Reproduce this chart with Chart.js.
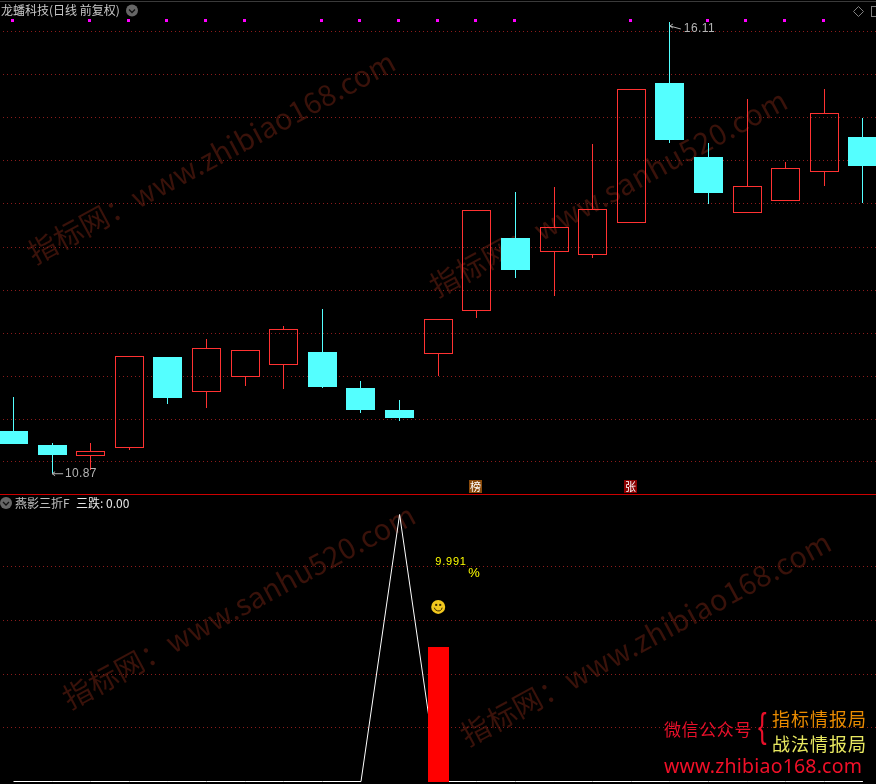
<!DOCTYPE html>
<html>
<head>
<meta charset="utf-8">
<title>龙蟠科技</title>
<script src="https://cdn.jsdelivr.net/npm/chart.js@4"></script>
<style>
    html, body { margin: 0; padding: 0; background: #000; overflow: hidden; }
    canvas { display: block; }
</style>
</head>
<body>
<canvas id="klineChart" width="876" height="784"></canvas>
<script>
// Daily candles
var opens  = [11.37, 11.20, 11.08, 11.17, 12.22, 11.82, 11.99, 12.13, 12.28, 11.86, 11.61, 12.26, 12.76, 13.60, 13.44, 13.41, 13.78, 15.40, 14.54, 13.89, 14.03, 14.37, 14.78];
var closes = [11.21, 11.09, 11.13, 12.24, 11.75, 12.33, 12.31, 12.55, 11.88, 11.61, 11.52, 12.66, 13.93, 13.23, 13.73, 13.94, 15.33, 14.74, 14.13, 14.21, 14.42, 15.05, 14.44];
var highs  = [11.76, 11.23, 11.23, 12.24, 12.22, 12.43, 12.31, 12.58, 12.78, 11.95, 11.73, 12.66, 13.93, 14.14, 14.20, 14.69, 15.33, 16.11, 14.71, 15.22, 14.49, 15.33, 15.00];
var lows   = [11.21, 10.87, 10.91, 11.15, 11.68, 11.63, 11.89, 11.85, 11.86, 11.57, 11.48, 12.00, 12.68, 13.14, 12.93, 13.37, 13.78, 14.71, 14.00, 13.89, 14.03, 14.21, 14.01];

// Magenta flags along the top of the price pane
var flagDays = [0, 2, 3, 4, 5, 6, 8, 9, 10, 11, 12, 13, 16, 18, 19, 20, 21];
var flagRange = [16.11, 16.15];

// Lower pane: 三跌 line and the red signal bar
var fallLine = [0, 0, 0, 0, 0, 0, 0, 0, 0, 0, 5, 0, 0, 0, 0, 0, 0, 0, 0, 0, 0, 0, 0];
var signalDay = 11;
var signalValue = 2.52;
var smileValue = 3.27;

// Grid levels
var priceTicks = [16, 15.5, 15, 14.5, 14, 13.5, 13, 12.5, 12, 11.5, 11.01];
var lowerTicks = [1.02, 2.01, 3.01, 4.02];

var RED = '#ff3232';
var CYAN = '#54ffff';

var days = opens.map(function (v, i) { return i; });

function isDown(i) {
    return closes[i] < opens[i];
}

function candleColor(ctx) {
    return isDown(ctx.dataIndex) ? CYAN : RED;
}

function candleFill(ctx) {
    return isDown(ctx.dataIndex) ? CYAN : 'rgba(0,0,0,0)';
}

function barDefaults(thickness) {
    return { type: 'bar', grouped: false, barThickness: thickness, borderSkipped: false, inflateAmount: 0, xAxisID: 'x', yAxisID: 'y' };
}

var bodySet = Object.assign(barDefaults(29), {
    data: days.map(function (i) { return { x: i, y: [opens[i], closes[i]] }; }),
    backgroundColor: candleFill,
    borderColor: candleColor,
    borderWidth: 1
});

var upperWickSet = Object.assign(barDefaults(1), {
    data: days.map(function (i) { return { x: i, y: [Math.max(opens[i], closes[i]), highs[i]] }; }),
    backgroundColor: candleColor,
    borderWidth: 0
});

var lowerWickSet = Object.assign(barDefaults(1), {
    data: days.map(function (i) { return { x: i, y: [lows[i], Math.min(opens[i], closes[i])] }; }),
    backgroundColor: candleColor,
    borderWidth: 0
});

var flagSet = Object.assign(barDefaults(3), {
    data: flagDays.map(function (i) { return { x: i - 0.03, y: flagRange }; }),
    backgroundColor: '#ff00ff',
    borderWidth: 0
});

var signalSet = Object.assign(barDefaults(21), {
    data: [{ x: signalDay, y: signalValue }],
    yAxisID: 'y2',
    backgroundColor: '#ff0000',
    borderWidth: 0
});

var lineSet = {
    type: 'line',
    data: days.map(function (i) { return { x: i, y: fallLine[i] }; }),
    yAxisID: 'y2',
    borderColor: '#ffffff',
    borderWidth: 1,
    pointRadius: 0,
    tension: 0
};

// Snap bars to whole pixels so the 1px wicks and outlines stay sharp
var snapBars = {
    id: 'snapBars',
    beforeDatasetsDraw: function (chart) {
        chart.getSortedVisibleDatasetMetas().forEach(function (meta) {
            if (meta.type !== 'bar') return;
            meta.data.forEach(function (el) {
                el.x = Math.round(el.x - el.width / 2) + el.width / 2;
                el.y = Math.round(el.y);
                el.base = Math.round(el.base);
                el.height = el.base - el.y;
            });
        });
    }
};

function drawText(ctx, text, x, y, font, color, spacing) {
    ctx.font = font;
    ctx.fillStyle = color;
    ctx.letterSpacing = (spacing || 0) + 'px';
    ctx.fillText(text, x, y);
    ctx.letterSpacing = '0px';
}

function drawWatermark(ctx, text, x, y, spacing) {
    ctx.save();
    ctx.translate(x, y);
    ctx.rotate(-28.4 * Math.PI / 180);
    ctx.textBaseline = 'alphabetic';
    drawText(ctx, text, 0, 0, '29px "Noto Sans CJK SC"', '#3a120a', spacing);
    ctx.restore();
}

function drawChevron(ctx, x, y) {
    ctx.fillStyle = '#666666';
    ctx.beginPath();
    ctx.arc(x, y, 6, 0, Math.PI * 2);
    ctx.fill();
    ctx.strokeStyle = '#111111';
    ctx.lineWidth = 1.3;
    ctx.beginPath();
    ctx.moveTo(x - 3, y - 1);
    ctx.lineTo(x, y + 2);
    ctx.lineTo(x + 3, y - 1);
    ctx.stroke();
}

function drawBadge(ctx, text, x, bg) {
    ctx.fillStyle = bg;
    ctx.fillRect(Math.round(x) - 6, 480, 13, 13);
    ctx.textAlign = 'center';
    drawText(ctx, text, Math.round(x) + 0.5, 486.5, '11px "Noto Sans CJK SC"', '#ffffff');
    ctx.textAlign = 'left';
}

function drawSmile(ctx, x, y) {
    ctx.fillStyle = '#f2c81e';
    ctx.beginPath();
    ctx.arc(x, y, 7, 0, Math.PI * 2);
    ctx.fill();
    ctx.fillStyle = '#3a2a00';
    ctx.fillRect(x - 3, y - 3, 2, 2);
    ctx.fillRect(x + 1, y - 3, 2, 2);
    ctx.strokeStyle = '#3a2a00';
    ctx.lineWidth = 1;
    ctx.beginPath();
    ctx.arc(x, y, 4, 0.2, Math.PI - 0.2);
    ctx.stroke();
}

// Background and watermarks go under the grid
var backdrop = {
    id: 'backdrop',
    beforeDraw: function (chart) {
        var ctx = chart.ctx;
        ctx.save();
        ctx.fillStyle = '#000000';
        ctx.fillRect(0, 0, chart.width, chart.height);
        drawWatermark(ctx, '指标网：www.zhibiao168.com', 35, 265, 0.3);
        drawWatermark(ctx, '指标网：www.sanhu520.com', 437, 298, 0.6);
        drawWatermark(ctx, '指标网：www.sanhu520.com', 70, 710, 0.3);
        drawWatermark(ctx, '指标网：www.zhibiao168.com', 468, 747, 0.45);
        ctx.restore();
    }
};

// Titles, price notes and the corner text
var overlay = {
    id: 'overlay',
    afterDraw: function (chart) {
        var ctx = chart.ctx;
        var x = chart.scales.x;
        var y = chart.scales.y;
        var y2 = chart.scales.y2;
        var sans = '"Noto Sans CJK SC"';
        ctx.save();
        ctx.textBaseline = 'middle';

        ctx.fillStyle = '#3a3a3a';
        ctx.fillRect(0, 1, chart.width, 1);
        ctx.fillStyle = '#cc0000';
        ctx.fillRect(0, 494, chart.width, 1);

        drawText(ctx, '龙蟠科技(日线 前复权)', 1, 10.5, '12px ' + sans, '#c8c8c8');
        drawChevron(ctx, 132, 10.5);
        drawChevron(ctx, 6, 503);
        drawText(ctx, '燕影三折F', 15, 503, '12px ' + sans, '#c0c0c0');
        drawText(ctx, '三跌: 0.00', 76, 503, '12px ' + sans, '#e8e8e8');

        // diamond and window button, top right
        ctx.strokeStyle = '#808080';
        ctx.lineWidth = 1;
        ctx.beginPath();
        ctx.moveTo(858.5, 6.5);
        ctx.lineTo(863.5, 11.5);
        ctx.lineTo(858.5, 16.5);
        ctx.lineTo(853.5, 11.5);
        ctx.closePath();
        ctx.stroke();
        ctx.strokeRect(871.5, 6.5, 10, 10);

        // lowest and highest price notes
        var lowX = x.getPixelForValue(1);
        var lowY = y.getPixelForValue(10.87);
        ctx.strokeStyle = '#b4b4b4';
        ctx.beginPath();
        ctx.moveTo(lowX, lowY);
        ctx.lineTo(lowX + 11, lowY);
        ctx.moveTo(lowX + 3, lowY - 2);
        ctx.lineTo(lowX, lowY);
        ctx.lineTo(lowX + 3, lowY + 2);
        ctx.stroke();
        drawText(ctx, '10.87', lowX + 13, lowY, '12px "Liberation Sans"', '#b4b4b4', 0.3);

        var highX = x.getPixelForValue(17);
        var highY = y.getPixelForValue(16.11) + 4;
        ctx.beginPath();
        ctx.moveTo(highX, highY);
        ctx.lineTo(highX + 11, highY + 3);
        ctx.moveTo(highX + 3, highY - 2);
        ctx.lineTo(highX, highY);
        ctx.lineTo(highX + 3, highY + 2);
        ctx.stroke();
        drawText(ctx, '16.11', highX + 14, highY + 3, '12px "Liberation Sans"', '#b4b4b4', 0.4);

        drawBadge(ctx, '榜', x.getPixelForValue(12) - 2, '#8a4a0a');
        drawBadge(ctx, '张', x.getPixelForValue(16) - 1, '#8b0000');

        // signal notes above the red bar
        var sigX = x.getPixelForValue(signalDay);
        drawText(ctx, '9.991', sigX - 3, 562, '11px "Liberation Sans"', '#ffff00', 0.8);
        drawText(ctx, '%', sigX + 30, 573, '13px "Liberation Sans"', '#ffff00');
        drawSmile(ctx, sigX, y2.getPixelForValue(smileValue));

        // corner text
        drawText(ctx, '微信公众号', 664, 730, '17px ' + sans, '#e8102a', 0.6);
        ctx.save();
        ctx.translate(758, 728);
        ctx.scale(0.68, 0.94);
        drawText(ctx, '{', 0, 0, '38px "Liberation Sans"', '#e8102a');
        ctx.restore();
        drawText(ctx, '指标情报局', 772, 719, '18px ' + sans, '#e88a00', 1);
        drawText(ctx, '战法情报局', 772, 744, '18px ' + sans, '#e8e860', 1);
        drawText(ctx, 'www.zhibiao168.com', 664, 767, '19.5px "Noto Sans"', '#f01028', 0.2);
        ctx.restore();
    }
};

function paneAxis(min, max, levels) {
    return {
        min: min,
        max: max,
        position: 'left',
        afterBuildTicks: function (axis) {
            axis.ticks = levels.map(function (v) { return { value: v }; });
        },
        afterFit: function (axis) {
            axis.width = 0;
        },
        ticks: { display: false },
        border: { display: false, dash: [1, 3], dashOffset: 1 },
        grid: { color: '#8c1c1c', drawTicks: false, lineWidth: 1 }
    };
}

// Initialize the chart; both panes share one canvas and stack through their y ranges
var ctx = document.getElementById('klineChart').getContext('2d');
var klineChart = new Chart(ctx, {
    data: {
        datasets: [signalSet, flagSet, bodySet, upperWickSet, lowerWickSet, lineSet]
    },
    plugins: [backdrop, snapBars, overlay],
    options: {
        responsive: false,
        animation: false,
        events: [],
        layout: { padding: 0 },
        plugins: { legend: { display: false }, title: { display: false }, tooltip: { enabled: false } },
        scales: {
            x: { type: 'linear', min: -0.34965, max: 22.3387, offset: false, display: false, grid: { offset: false } },
            y: paneAxis(7.2708, 16.3652, priceTicks),
            y2: paneAxis(-0.0468, 14.635, lowerTicks)
        }
    }
});
</script>
</body>
</html>
